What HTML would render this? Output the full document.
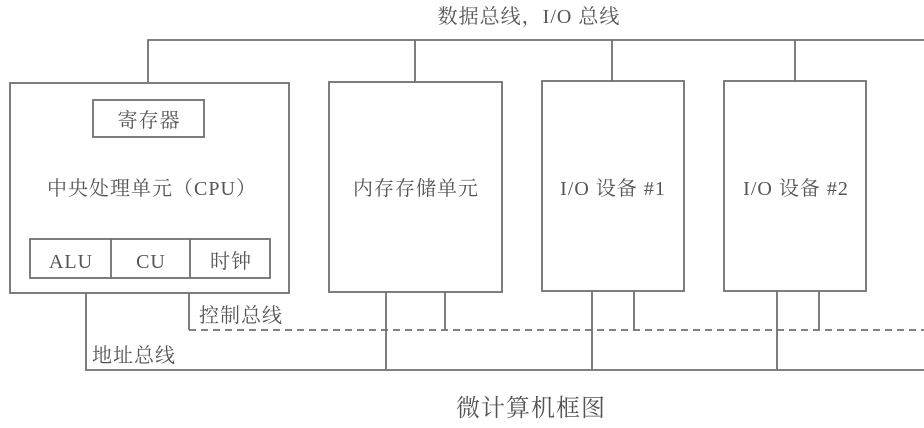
<!DOCTYPE html>
<html><head><meta charset="utf-8"><style>
body{margin:0;background:#fff;}
svg text{font-family:"Liberation Serif","Noto Serif CJK SC",serif;fill:#555;font-size:20px;letter-spacing:1px;}
</style></head><body>
<svg width="924" height="423" viewBox="0 0 924 423" xmlns="http://www.w3.org/2000/svg">
<g stroke="#707070" stroke-width="1.8" fill="none">
<polyline points="148,82 148,40 924,40"/>
<line x1="415" y1="40" x2="415" y2="82"/>
<line x1="612" y1="40" x2="612" y2="81"/>
<line x1="795" y1="40" x2="795" y2="81"/>
<rect x="10" y="83" width="279" height="210"/>
<rect x="93" y="100" width="111" height="37"/>
<rect x="30" y="239" width="240" height="39"/>
<line x1="111" y1="239" x2="111" y2="278"/>
<line x1="190" y1="239" x2="190" y2="278"/>
<rect x="329" y="82" width="173" height="210"/>
<rect x="542" y="81" width="142" height="210"/>
<rect x="724" y="81" width="142" height="210"/>
<polyline points="86,293 86,370 924,370"/>
<line x1="189" y1="293" x2="189" y2="330"/>
<line x1="386" y1="292" x2="386" y2="370"/>
<line x1="445" y1="292" x2="445" y2="330"/>
<line x1="592" y1="291" x2="592" y2="370"/>
<line x1="634" y1="291" x2="634" y2="330"/>
<line x1="777" y1="291" x2="777" y2="370"/>
<line x1="819" y1="291" x2="819" y2="330"/>
<line x1="189" y1="330" x2="924" y2="330" stroke-dasharray="7,5"/>
</g>
<text x="529" y="23" text-anchor="middle">数据总线，I/O 总线</text>
<text x="149" y="127" text-anchor="middle">寄存器</text>
<text x="152" y="195" text-anchor="middle">中央处理单元（CPU）</text>
<text x="71" y="268" text-anchor="middle">ALU</text>
<text x="151" y="268" text-anchor="middle">CU</text>
<text x="231" y="268" text-anchor="middle">时钟</text>
<text x="416" y="195" text-anchor="middle">内存存储单元</text>
<text x="613" y="195" text-anchor="middle">I/O 设备 #1</text>
<text x="796" y="195" text-anchor="middle">I/O 设备 #2</text>
<text x="199" y="322">控制总线</text>
<text x="92" y="362">地址总线</text>
<text x="531" y="416" text-anchor="middle" style="font-size:24px">微计算机框图</text>
</svg>
</body></html>
